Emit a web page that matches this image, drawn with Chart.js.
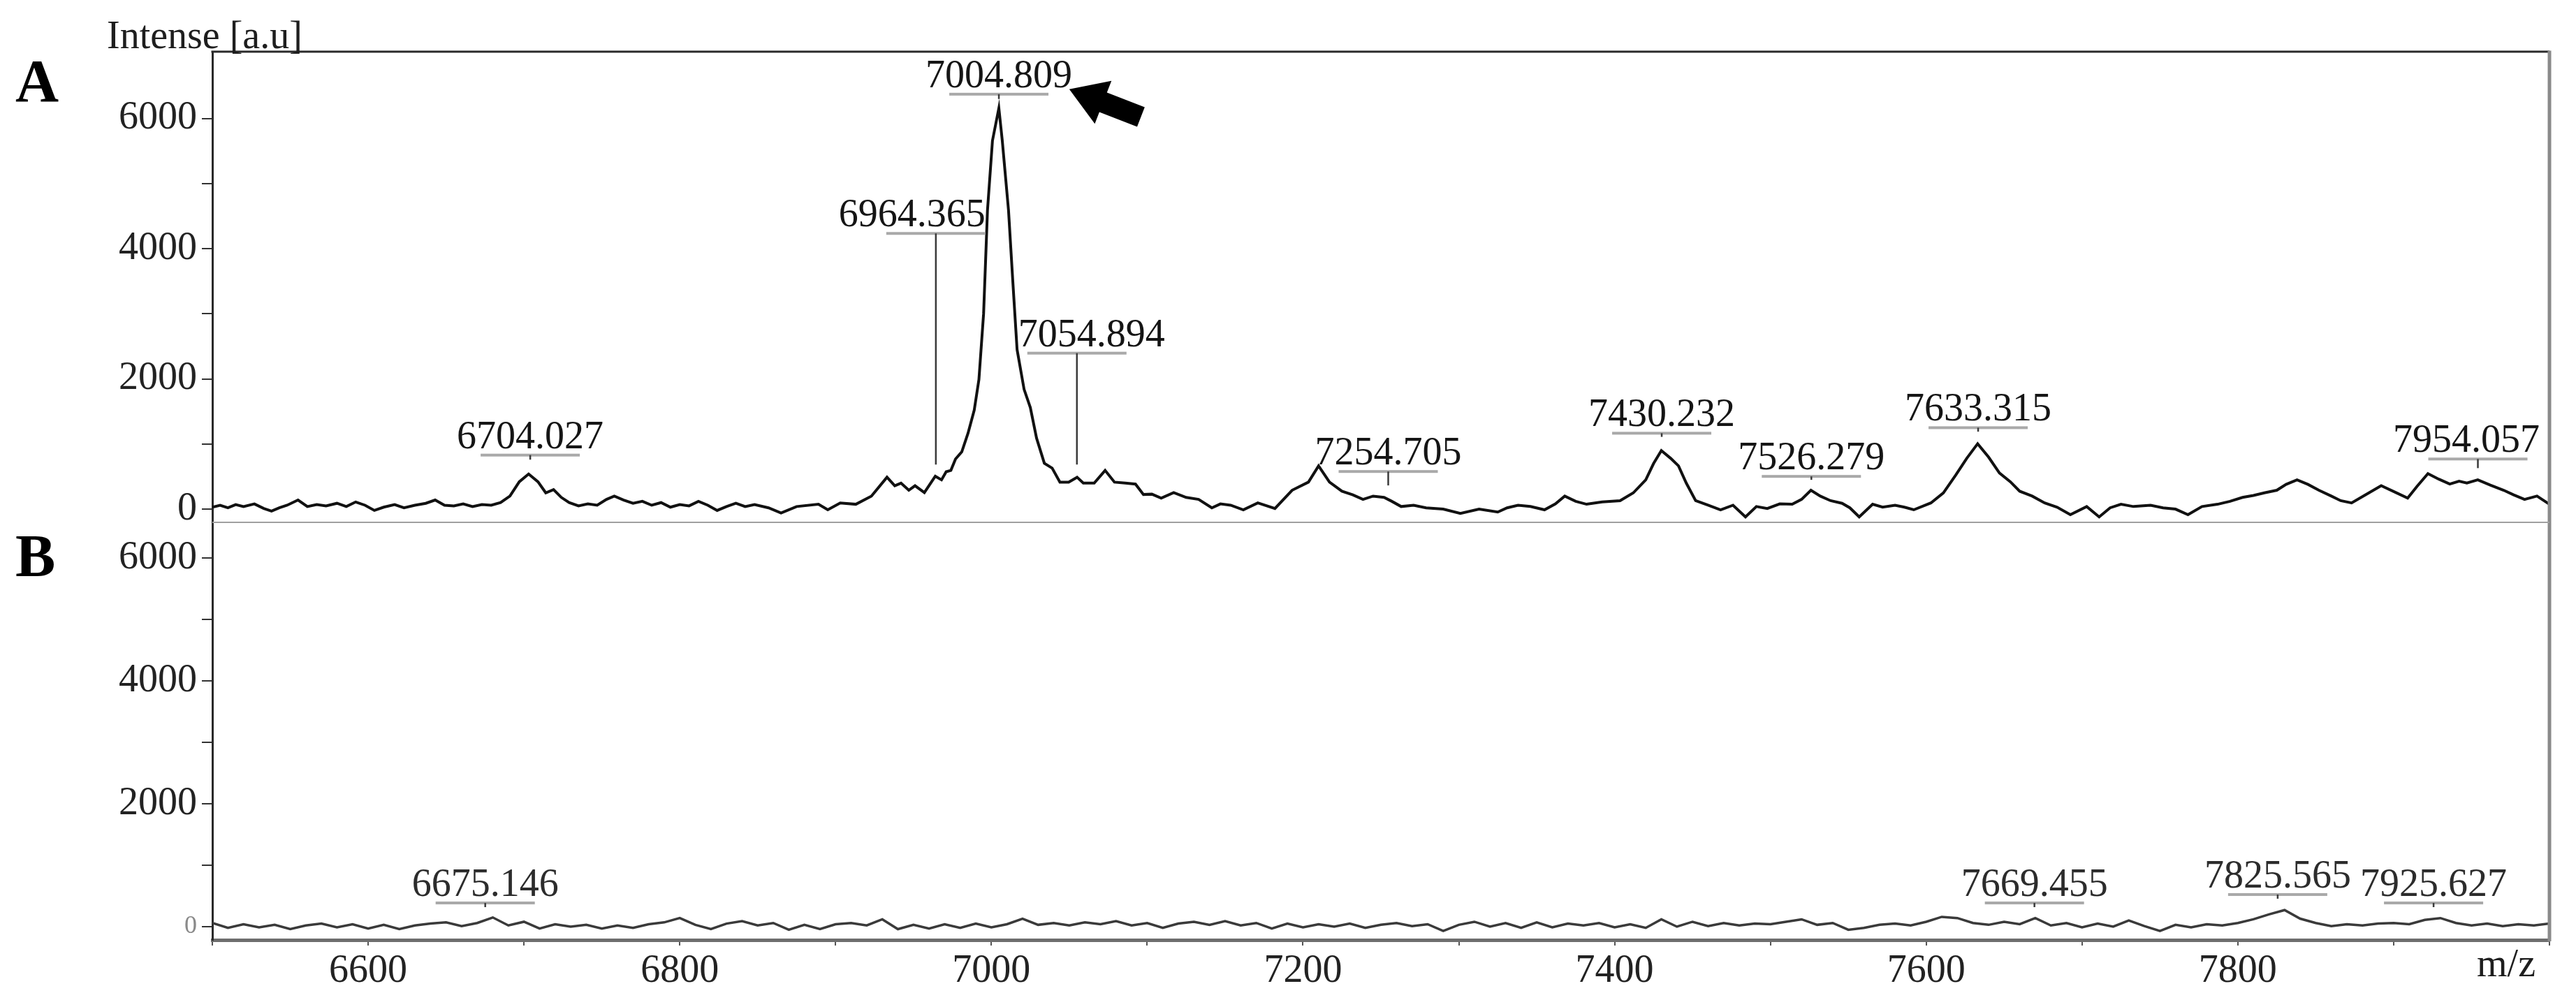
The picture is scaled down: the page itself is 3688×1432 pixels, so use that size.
<!DOCTYPE html>
<html><head><meta charset="utf-8">
<script src="https://cdn.jsdelivr.net/npm/chart.js@4.4.1/dist/chart.umd.min.js"></script>
<style>html,body{margin:0;padding:0;background:#fff;}canvas{display:block;}</style>
</head><body>
<canvas id="c" width="3688" height="1432"></canvas>
<script>
// ---- Panel A spectrum (m/z, intensity) ----
const mzA = [
6500,6505,6510,6515,6520,6527,6533,6538,6543,6548,
6555,6561,6567,6573,6580,6586,6592,6598,6604,6610,
6617,6623,6630,6637,6643,6649,6655,6661,6667,6673,
6679,6685,6691,6697,6703,6709,6714,6719,6724,6729,
6735,6741,6747,6753,6758,6764,6770,6776,6782,6788,
6794,6800,6806,6812,6818,6824,6830,6836,6842,6848,
6857,6865,6875,6889,6895,6903,6913,6923,6933,6938,
6942,6947,6951,6957,6964,6968,6971,6974,6977,6981,
6985,6989,6992,6995,6997.5,7000.7,7004.8,7007,7011,7013.7,
7016.5,7021,7025,7029,7034,7039,7044,7049.6,7055,7059,
7066,7073,7079,7086,7092.5,7097.6,7103,7109,7117,7125,
7133,7141.5,7147,7153.6,7161.7,7171,7182,7193,7203.5,7210,
7217,7225,7232,7238.5,7245,7252,7257,7263,7271,7279,
7290,7301,7313,7325,7331,7338,7346,7355,7362,7368,
7375,7382,7392,7403.5,7412,7420,7425,7430,7436,7441,
7446,7452,7460,7468,7476,7484,7491,7498,7506,7514,
7520,7526,7532,7538.6,7546,7551,7557,7565.6,7572,7580,
7586,7592,7603,7611,7619,7626,7633,7640,7647,7654,
7660,7668,7676,7684,7692.5,7703,7711,7718,7725,7733,
7744,7752,7760,7768,7777,7787,7795,7803,7810,7817,
7825,7831,7838,7845,7852,7860,7866,7873,7882,7892,
7901,7909,7915,7922,7929,7936,7942,7947,7954,7962,
7970.6,7977,7984,7992,8000];
const intA = [
30,60,20,70,40,80,10,-30,20,60,
140,40,70,50,90,40,110,60,-20,30,
70,20,60,90,140,60,50,80,40,70,
60,100,200,420,540,420,250,300,180,100,
50,80,60,150,200,140,90,120,60,100,
30,70,50,120,60,-20,40,90,40,70,
20,-60,40,75,-10,95,75,200,490,360,
400,290,360,255,505,450,575,595,770,880,
1165,1520,1990,3000,4590,5660,6160,5660,4590,3520,
2450,1840,1560,1090,705,630,415,415,490,400,
400,595,415,400,385,225,230,170,255,180,
150,20,80,60,-10,95,10,290,415,665,
415,275,220,150,200,180,120,40,60,20,
0,-65,0,-45,20,60,40,-10,80,200,
120,75,110,130,250,450,700,900,780,665,
400,130,60,-10,60,-120,40,10,80,75,
150,290,200,130,90,20,-120,75,30,60,
30,-10,95,250,525,780,1005,800,555,420,
275,200,95,30,-85,40,-120,20,75,40,
60,20,0,-85,40,75,120,180,210,250,
290,380,450,380,290,200,130,95,220,360,
260,170,350,545,460,385,430,400,450,370,
290,220,150,200,75];

// ---- Panel B spectrum ----
const mzB = [
6500,6510,6520,6530,6540,6550,6560,6570,6580,6590,
6600,6610,6620,6630,6640,6650,6660,6670,6680,6690,
6700,6710,6720,6730,6740,6750,6760,6770,6780,6790,
6800,6810,6820,6830,6840,6850,6860,6870,6880,6890,
6900,6910,6920,6930,6940,6950,6960,6970,6980,6990,
7000,7010,7020,7030,7040,7050,7060,7070,7080,7090,
7100,7110,7120,7130,7140,7150,7160,7170,7180,7190,
7200,7210,7220,7230,7240,7250,7260,7270,7280,7290,
7300,7310,7320,7330,7340,7350,7360,7370,7380,7390,
7400,7410,7420,7430,7440,7450,7460,7470,7480,7490,
7500,7510,7520,7530,7540,7550,7560,7570,7580,7590,
7600,7610,7620,7630,7640,7650,7660,7670,7680,7690,
7700,7710,7720,7730,7740,7750,7760,7770,7780,7790,
7800,7810,7820,7830,7840,7850,7860,7870,7880,7890,
7900,7910,7920,7930,7940,7950,7960,7970,7980,7990,
8000];
const intB = [
60,-20,40,-10,30,-40,20,50,-10,40,
-30,30,-40,20,50,70,10,60,150,20,
80,-30,40,0,30,-30,20,-20,40,70,
140,30,-40,50,90,20,60,-50,30,-40,
40,60,20,120,-40,30,-30,40,-20,50,
-10,40,130,30,60,20,70,40,90,20,
60,-20,50,80,30,90,20,60,-30,50,
-10,40,0,50,-20,30,60,10,40,-70,
30,80,0,60,-20,70,-10,50,20,60,
-10,40,-20,120,0,80,10,60,20,50,
40,80,120,30,60,-50,-20,30,50,20,
80,160,140,60,30,80,40,140,20,60,
-10,50,0,100,10,-70,30,-10,40,20,
60,120,200,270,130,60,10,40,20,50,
60,40,110,140,60,20,50,10,40,20,
50];

// ---- Axes ----
const yTickValues = [0,1000,2000,3000,4000,5000,6000];
const yTickLabels = [0,2000,4000,6000];
const xTickValues = [6500,6600,6700,6800,6900,7000,7100,7200,7300,7400,7500,7600,7700,7800,7900,8000];
const xTickLabels = [6600,6800,7000,7200,7400,7600,7800];

// ---- Peak annotations ----
const peaksA = [6704.027,6964.365,7004.809,7054.894,7254.705,7430.232,7526.279,7633.315,7954.057];
const levelsA = [830,4235,6374,2396,578,1166,503,1251,770];
const dropsA = [760,685,6300,685,364,1110,450,1190,630];
const alignA = ['c','r','c','l','c','c','c','c','c'];
const peaksB = [6675.146,7669.455,7825.565,7925.627];
const levelsB = [386,386,523,386];
const dropsB = [318,318,455,318];
const alignB = ['c','c','c','c'];
const arrowTarget = {mz: 7050, intensity: 6450};

const SERIF = "'Liberation Serif', 'DejaVu Serif', serif";

function drawPeaks(c, xs, ys, mzs, levels, drops, aligns, area, textColor) {
  c.font = '56px ' + SERIF;
  c.textBaseline = 'alphabetic';
  mzs.forEach((mz, i) => {
    const x = xs.getPixelForValue(mz);
    const yb = ys.getPixelForValue(levels[i]);
    const yd = ys.getPixelForValue(drops[i]);
    c.fillStyle = '#a9a9a9';
    c.fillRect(x - 71, yb - 2, 142, 4);
    c.strokeStyle = '#3a3a3a';
    c.lineWidth = 2.5;
    c.beginPath(); c.moveTo(x, yb); c.lineTo(x, yd); c.stroke();
    const txt = mz.toFixed(3);
    c.fillStyle = textColor;
    const w = c.measureText(txt).width;
    let left;
    if (aligns[i] === 'r') left = x + 71 - w;
    else if (aligns[i] === 'l') left = x - 84;
    else left = x - w / 2;
    if (left + w > area.right - 14) left = area.right - 14 - w;
    c.textAlign = 'left';
    c.fillText(txt, left, yb - 10);
  });
}

const decor = {
  id: 'decor',
  afterDraw(chart) {
    const c = chart.ctx, a = chart.chartArea;
    const xs = chart.scales.x, yA = chart.scales.yA, yB = chart.scales.yB;
    c.save();
    // frame
    c.strokeStyle = '#2a2a2a'; c.lineWidth = 3;
    c.beginPath(); c.moveTo(a.left - 1.5, a.top); c.lineTo(a.right, a.top); c.stroke();
    c.strokeStyle = '#8a8a8a'; c.lineWidth = 5;
    c.beginPath(); c.moveTo(a.right, a.top - 1.5); c.lineTo(a.right, a.bottom + 2); c.stroke();
    c.strokeStyle = '#a0a0a0'; c.lineWidth = 2;
    c.beginPath(); c.moveTo(a.left, yA.bottom); c.lineTo(a.right, yA.bottom); c.stroke();

    drawPeaks(c, xs, yA, peaksA, levelsA, dropsA, alignA, a, '#151515');
    drawPeaks(c, xs, yB, peaksB, levelsB, dropsB, alignB, a, '#2c2c2c');

    // arrow pointing at the main peak label
    const tx = xs.getPixelForValue(arrowTarget.mz), ty = yA.getPixelForValue(arrowTarget.intensity);
    c.translate(tx, ty);
    c.rotate(Math.atan2(38, 98));
    c.fillStyle = '#000';
    c.beginPath();
    c.moveTo(0, 0); c.lineTo(52, -33); c.lineTo(52, -15); c.lineTo(110, -15);
    c.lineTo(110, 15); c.lineTo(52, 15); c.lineTo(52, 33); c.closePath(); c.fill();
    c.setTransform(1, 0, 0, 1, 0, 0);

    // texts
    c.fillStyle = '#1e1e1e';
    c.textAlign = 'left'; c.textBaseline = 'alphabetic';
    c.font = '56px ' + SERIF;
    c.fillText('Intense [a.u]', 153, 69);
    c.textAlign = 'right';
    c.fillText('m/z', 3630, 1398);
    c.textAlign = 'left';
    c.font = 'bold 86px ' + SERIF;
    c.fillStyle = '#000';
    c.fillText('A', 22, 145);
    c.fillText('B', 22, 825);
    c.restore();
  }
};

function yScale(min, max, weight, order) {
  return {
    type: 'linear', position: 'left', stack: 'y', stackWeight: weight, weight: order,
    min: min, max: max,
    afterBuildTicks: s => { s.ticks = yTickValues.map(v => ({value: v})); },
    afterFit: s => { s.width = 304; },
    grid: { drawOnChartArea: false, drawTicks: true, tickLength: 15, color: '#333', lineWidth: 2 },
    border: { display: true, color: '#2a2a2a', width: 3 },
    ticks: {
      padding: 7, color: '#222', autoSkip: false,
      font: { family: SERIF, size: 56 },
      callback: v => yTickLabels.includes(v) ? String(v) : ''
    }
  };
}

const scaleB = yScale(-216, 6580, 598, 1);
scaleB.ticks.color = ctx => (ctx.tick && ctx.tick.value === 0) ? '#8a8a8a' : '#222';
scaleB.ticks.font = ctx => (ctx.tick && ctx.tick.value === 0) ? { family: SERIF, size: 36 } : { family: SERIF, size: 56 };

new Chart(document.getElementById('c').getContext('2d'), {
  type: 'line',
  data: {
    datasets: [
      { data: mzA.map((x, i) => ({x: x, y: intA[i]})), yAxisID: 'yA', borderColor: '#111111', borderWidth: 4, pointRadius: 0, tension: 0, fill: false },
      { data: mzB.map((x, i) => ({x: x, y: intB[i]})), yAxisID: 'yB', borderColor: '#3a3a3a', borderWidth: 3.5, pointRadius: 0, tension: 0, fill: false }
    ]
  },
  options: {
    responsive: false, animation: false, devicePixelRatio: 1,
    layout: { padding: { top: 74, right: 38, left: 0, bottom: 0 } },
    plugins: { legend: { display: false }, tooltip: { enabled: false } },
    scales: {
      x: {
        type: 'linear', min: 6500, max: 8000,
        afterBuildTicks: s => { s.ticks = xTickValues.map(v => ({value: v})); },
        afterFit: s => { s.height = 86; },
        grid: { drawOnChartArea: false, tickLength: 8, color: '#555', lineWidth: 2 },
        border: { display: true, color: '#6e6e6e', width: 5 },
        ticks: {
          autoSkip: false, maxRotation: 0, padding: 4, color: '#222',
          font: { family: SERIF, size: 56 },
          callback: v => xTickLabels.includes(v) ? String(v) : ''
        }
      },
      yA: yScale(-203, 7027, 674, 2),
      yB: scaleB
    }
  },
  plugins: [decor]
});
</script>
</body></html>
